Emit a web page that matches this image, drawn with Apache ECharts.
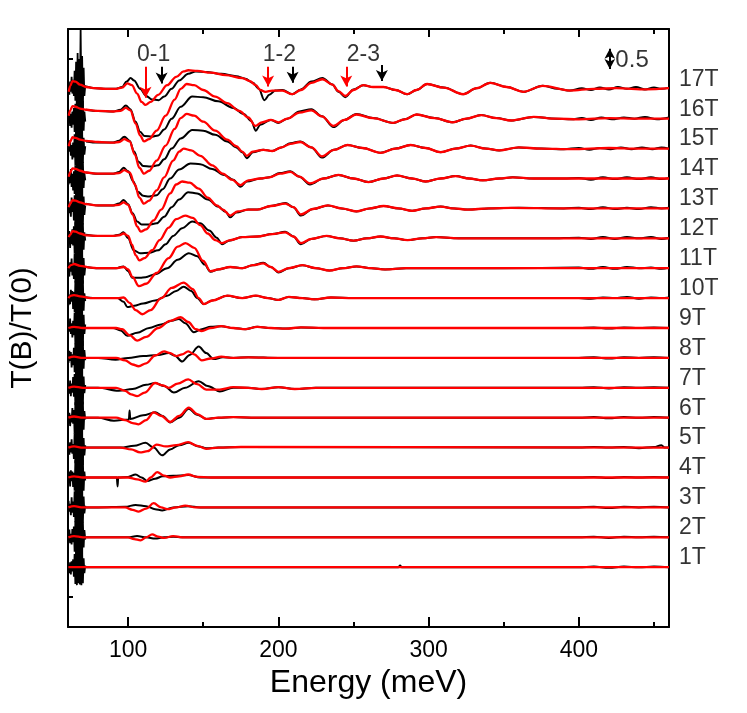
<!DOCTYPE html>
<html>
<head>
<meta charset="utf-8">
<script src="https://cdn.jsdelivr.net/npm/echarts@6.0.0/dist/echarts.min.js"></script>
<style>html,body{margin:0;padding:0;background:#fff;}#c{width:747px;height:713px;}</style>
</head>
<body>
<div id="c"></div>
<script>
// ---------- data ----------
const fields = ['1T','2T','3T','4T','5T','6T','7T','8T','9T','10T','11T','12T','13T','14T','15T','16T','17T'];
const offsets = [1.0,1.5,2.0,2.5,3.0,3.5,4.0,4.5,5.0,5.5,6.0,6.5,7.0,7.5,8.0,8.5,9.0];
const xMajorTicks = [100,200,300,400];
const xMinorTicks = [150,250,350,450];

// noisy low-energy part of the measured (black) traces: energies + deviations from each trace's offset
const noiseE = [60.4,60.9,61.4,61.9,62.4,62.9,63.4,63.9,64.4,64.9,65.4,65.9,66.4,66.9,67.4,67.9,68.4,68.9,69.4,69.9,70.4,70.9,71.5];
const n1  = [0.04,-0.1,0.08,-0.12,0.1,-0.07,0.13,-0.16,0.22,-0.28,0.27,-0.3,0.25,-0.27,0.3,-0.29,0.26,-0.3,0.28,-0.27,0.15,-0.1,0.03];
const n2  = [-0.07,0.13,-0.1,0.06,-0.12,0.14,-0.08,0.18,-0.24,0.27,-0.31,0.29,-0.3,0.31,-0.26,0.3,-0.31,0.28,-0.29,0.26,-0.17,0.12,-0.04];
const n3  = [0.11,-0.07,0.06,-0.13,0.17,-0.09,0.1,-0.16,0.27,-0.25,0.3,-0.32,0.26,-0.29,0.32,-0.3,0.28,-0.33,0.3,-0.25,0.18,-0.1,0.03];
const n4  = [-0.05,0.1,-0.15,0.12,-0.06,0.1,-0.16,0.08,-0.22,0.29,-0.27,0.3,-0.33,0.29,-0.28,0.32,-0.29,0.26,-0.31,0.3,-0.22,0.1,-0.05];
const n5  = [0.07,-0.12,0.09,-0.08,0.14,-0.1,0.06,-0.19,0.24,-0.26,0.32,-0.28,0.29,-0.31,0.3,-0.26,0.31,-0.3,0.26,-0.29,0.16,-0.13,0.04];
const n6  = [-0.1,0.08,-0.14,0.05,-0.08,0.16,-0.1,0.13,-0.27,0.26,-0.29,0.33,-0.3,0.26,-0.32,0.29,-0.27,0.31,-0.3,0.27,-0.2,0.11,-0.03];
const n7  = [0.05,-0.1,0.12,-0.14,0.07,-0.08,0.18,-0.15,0.23,-0.29,0.29,-0.3,0.33,-0.28,0.27,-0.31,0.3,-0.26,0.32,-0.28,0.19,-0.09,0.05];
const n8  = [-0.08,0.12,-0.05,0.1,-0.16,0.06,-0.12,0.17,-0.24,0.24,-0.31,0.28,-0.29,0.32,-0.3,0.26,-0.32,0.3,-0.27,0.29,-0.18,0.13,-0.04];
const n9  = [0.1,-0.06,0.16,-0.1,0.08,-0.16,0.12,-0.12,0.26,-0.27,0.3,-0.33,0.28,-0.3,0.31,-0.27,0.33,-0.29,0.27,-0.3,0.22,-0.1,0.06];
const n10 = [-0.12,0.06,-0.1,0.14,-0.06,0.12,-0.18,0.1,-0.23,0.28,-0.28,0.31,-0.32,0.27,-0.29,0.33,-0.3,0.27,-0.28,0.3,-0.21,0.08,-0.05];
const n11 = [0.06,-0.14,0.1,-0.06,0.16,-0.12,0.08,-0.18,0.25,-0.24,0.31,-0.29,0.3,-0.27,0.33,-0.3,0.26,-0.31,0.29,-0.26,0.17,-0.12,0.03];
const n12 = [-0.04,0.12,-0.16,0.07,-0.1,0.15,-0.12,0.2,-0.25,0.27,-0.3,0.3,-0.26,0.32,-0.31,0.28,-0.29,0.33,-0.27,0.25,-0.19,0.1,-0.04];
const n13 = [0.12,-0.08,0.05,-0.14,0.18,-0.06,0.12,-0.2,0.22,-0.3,0.28,-0.27,0.32,-0.3,0.26,-0.33,0.29,-0.28,0.31,-0.27,0.2,-0.11,0.05];
const n14 = [-0.1,0.05,-0.08,0.16,-0.14,0.08,-0.2,0.12,-0.26,0.22,-0.32,0.29,-0.3,0.33,-0.27,0.31,-0.3,0.26,-0.31,0.28,-0.16,0.09,-0.03];
const n15 = [0.08,-0.05,0.14,-0.12,0.06,-0.18,0.1,-0.15,0.24,-0.28,0.3,-0.31,0.27,-0.3,0.33,-0.26,0.3,-0.32,0.28,-0.24,0.18,-0.1,0.04];
const n16 = [-0.06,0.1,-0.12,0.08,-0.15,0.12,-0.1,0.18,-0.22,0.25,-0.3,0.32,-0.28,0.3,-0.33,0.27,-0.3,0.31,-0.26,0.3,-0.2,0.12,-0.05];
const n17 = [0.02,-0.1,0.12,-0.05,0.2,-0.08,0.15,-0.12,0.3,-0.2,0.45,-0.3,0.6,-0.28,0.5,-0.3,1.0,-0.25,0.55,-0.3,0.35,-0.12,0.06];

// measured traces (black): [energy meV, deviation from offset]
const black1  = [[72,0.0],[150,0.0],[280,0.0],[281,0.03],[282,0.0],[400,0.0],[410,0.01],[420,-0.01],[430,0.01],[440,0.0],[450,0.01],[460,0.0]];
const black2  = [[72,0.0],[80,0.0],[100,0.0],[106,0.02],[112,0.0],[118,-0.02],[124,0.0],[130,0.01],[136,0.0],[400,0.0],[410,0.01],[420,-0.01],[430,0.01],[440,0.0],[450,0.01],[460,0.0]];
const black3  = [[72,0.0],[80,0.0],[98,0.01],[105,0.04],[112,0.02],[118,-0.03],[122.7,-0.05],[130,0.0],[140,0.02],[148,0.0],[400,0.0],[410,0.01],[420,-0.01],[430,0.01],[440,0.0],[450,0.01],[460,0.0]];
const black4  = [[72,0.0],[80,0.0],[92.5,0.0],[93,-0.15],[93.4,0.0],[100,0.01],[105,0.05],[109,0.0],[112.8,-0.06],[118,-0.02],[123,0.02],[130,0.03],[140,0.04],[148,0.0],[160,0.0],[400,0.0],[410,0.01],[420,-0.01],[430,0.01],[440,0.0],[450,0.01],[460,0.0]];
const black5  = [[72,0.0],[80,0.0],[95,0.0],[104,0.03],[111.6,0.08],[117,0.0],[122.7,-0.13],[128,-0.03],[134,0.04],[140.4,0.08],[147,0.02],[152,-0.01],[160,0.0],[175,0.01],[400,0.0],[410,0.01],[420,0.0],[430,0.01],[440,-0.01],[450,0.01],[455,0.04],[457,0.0],[460,0.0]];
const black6  = [[72,0.0],[80,0.0],[90.6,-0.05],[100.5,-0.03],[101,0.12],[101.4,-0.02],[110,0.04],[118,0.09],[123,0.03],[128,-0.08],[134,0.0],[140.4,0.15],[146,0.05],[152,-0.02],[160,0.0],[170,0.01],[185,0.0],[400,0.0],[410,0.01],[420,-0.01],[430,0.01],[440,0.0],[450,0.01],[460,0.0]];
const black7  = [[72,0.0],[80,0.0],[93.7,-0.05],[103,-0.02],[112,0.05],[118,0.08],[124,0.03],[130.5,-0.08],[138,0.0],[147,0.11],[153,0.03],[161,-0.06],[170,0.0],[180,0.0],[189,-0.02],[200,0.01],[211,-0.02],[225,0.0],[400,0.0],[410,0.01],[420,-0.01],[430,0.01],[440,0.0],[450,0.01],[460,0.0]];
const black8  = [[72,0.0],[80,0.0],[91.7,-0.03],[100,0.0],[110,0.03],[120,0.05],[127,0.08],[131,0.04],[136,-0.06],[141,0.05],[147,0.19],[152,0.08],[157,-0.02],[163,0.01],[170,0.0],[180,0.01],[200,0.0],[400,0.0],[410,0.01],[420,-0.01],[430,0.01],[440,0.0],[450,0.01],[460,0.0]];
const black9  = [[72,0.0],[80,0.0],[90,0.0],[95,-0.04],[99.5,-0.13],[106,-0.08],[114,0.0],[122,0.06],[129,0.12],[133.8,0.15],[138,0.08],[143.8,-0.07],[149,-0.02],[155,0.02],[162,0.03],[170,0.0],[178,-0.02],[186,0.02],[195,0.0],[205,-0.01],[215,0.01],[230,0.0],[400,0.0],[410,0.01],[420,-0.01],[430,0.01],[440,0.0],[450,0.01],[460,0.0]];
const black10 = [[72,0.01],[80,0.0],[93,0.0],[97,-0.06],[99.5,-0.15],[104,-0.13],[110,-0.09],[118,-0.04],[126,0.04],[132,0.12],[137,0.19],[142,0.12],[146,0.0],[150.4,-0.1],[156,-0.04],[166,0.04],[176,0.0],[185,0.04],[193,0.0],[200,-0.03],[207,0.02],[216,0.0],[224,-0.02],[235,0.01],[250,0.0],[300,0.0],[400,0.0],[408,-0.01],[416,0.01],[424,0.0],[432,0.02],[440,-0.01],[448,0.01],[455,0.0],[460,0.01]];
const black11 = [[72,0.02],[80,0.0],[92,0.0],[97,0.03],[100,-0.05],[102.8,-0.16],[108,-0.16],[111.6,-0.15],[118,-0.1],[126,0.0],[133,0.14],[140.4,0.25],[146,0.2],[151,0.06],[154.8,-0.06],[160,-0.02],[168,0.02],[176,0.0],[183,0.05],[190,0.09],[195,0.02],[200,-0.07],[207,0.0],[216,0.05],[225,0.0],[234,-0.04],[243,0.0],[252,0.03],[262,0.0],[271,-0.02],[285,0.0],[300,0.0],[350,0.0],[400,0.01],[408,-0.01],[416,0.02],[424,-0.01],[432,0.02],[440,0.0],[448,0.01],[455,-0.01],[460,0.01]];
const black12 = [[72,0.06],[80,0.04],[90,0.04],[94,0.06],[97,0.1],[100,0.0],[103.7,-0.2],[108,-0.25],[114,-0.24],[120,-0.2],[125,-0.1],[130,0.04],[136,0.17],[142.7,0.28],[148,0.25],[154,0.13],[159,0.01],[162.6,-0.1],[167,-0.04],[176,0.02],[186,0.03],[196,0.07],[204.6,0.11],[210,0.03],[215,-0.1],[222,-0.01],[232,0.04],[241,0.0],[250,-0.04],[259,0.0],[268,0.03],[277,0.0],[286,-0.03],[296,0.0],[305,0.02],[320,0.0],[340,0.0],[380,0.0],[400,0.01],[408,-0.01],[416,0.02],[424,-0.01],[432,0.02],[440,0.0],[448,0.02],[455,-0.01],[460,0.01]];
const black13 = [[72,0.08],[80,0.05],[90,0.05],[94,0.08],[97,0.14],[100,0.07],[103,-0.08],[106,-0.22],[109,-0.27],[114,-0.27],[119,-0.25],[124,-0.14],[129,0.02],[134,0.15],[140,0.27],[146,0.25],[153,0.15],[160,0.03],[165,-0.06],[168,-0.15],[172,-0.07],[180,-0.02],[186,-0.02],[195,0.04],[204.7,0.09],[210,0.02],[215,-0.12],[223,-0.01],[233,0.05],[242,0.0],[252,-0.05],[261,0.0],[270,0.04],[280,0.0],[289,-0.04],[298,0.0],[308,0.03],[317,0.0],[326,-0.02],[340,0.0],[360,0.01],[390,0.0],[400,0.01],[408,-0.01],[416,0.02],[424,-0.01],[432,0.01],[440,-0.01],[448,0.02],[455,0.0],[460,0.01]];
const black14 = [[72,0.1],[80,0.08],[90,0.08],[94,0.11],[97,0.18],[100,0.12],[103.5,-0.05],[106.5,-0.22],[110,-0.29],[114,-0.3],[119,-0.28],[123,-0.18],[128,0.0],[134,0.15],[141.5,0.25],[148,0.24],[156,0.16],[164,0.06],[170,-0.02],[174.8,-0.14],[179,-0.05],[188,0.0],[194,0.02],[201,0.09],[208,0.12],[214,0.03],[221,-0.1],[230,0.0],[240,0.06],[250,0.0],[260,-0.06],[270,0.0],[279,0.05],[289,0.0],[298,-0.05],[308,0.0],[318,0.04],[327,0.0],[336,-0.03],[347,0.0],[356,0.02],[370,0.0],[390,0.0],[400,0.01],[408,-0.02],[416,0.02],[424,-0.01],[432,0.02],[440,-0.01],[448,0.02],[455,-0.01],[460,0.01]];
const black15 = [[72,0.12],[80,0.1],[90,0.1],[94,0.13],[97.5,0.2],[101,0.13],[104,-0.05],[107,-0.22],[110,-0.29],[115,-0.3],[120,-0.28],[124,-0.18],[129,0.0],[135,0.17],[142.7,0.31],[150,0.3],[158,0.23],[166,0.12],[172,0.02],[176,-0.06],[179,-0.16],[183,-0.06],[190,-0.02],[196,-0.04],[202,0.02],[208,0.09],[214.6,0.12],[222,0.02],[229,-0.15],[237,-0.02],[246,0.06],[256,0.01],[268,-0.07],[278,0.0],[288,0.06],[298,0.01],[308,-0.06],[318,0.0],[328,0.05],[338,0.0],[347,-0.03],[360,0.02],[375,0.0],[390,-0.01],[400,0.01],[407,-0.02],[414,0.01],[421,-0.01],[428,0.02],[435,-0.01],[442,0.02],[449,-0.01],[455,0.02],[460,0.0]];
const black16 = [[72,0.15],[80,0.13],[90,0.12],[95,0.15],[98.5,0.22],[101.5,0.16],[105,-0.05],[108,-0.22],[111,-0.29],[116,-0.3],[120,-0.28],[124,-0.18],[129,0.0],[135,0.2],[142.7,0.37],[150,0.36],[160,0.29],[170,0.18],[177,0.08],[182,-0.04],[185,-0.2],[188,-0.1],[195,-0.02],[200,-0.07],[206,0.0],[214,0.12],[222,0.16],[229,0.04],[236.7,-0.14],[244,-0.02],[252,0.08],[263,0.01],[276.5,-0.07],[284,-0.01],[292,0.07],[304,0.01],[316,-0.06],[325,0.0],[335,0.06],[345,0.01],[355,-0.03],[370,0.03],[385,0.0],[395,-0.01],[402,0.01],[408,-0.02],[415,0.02],[422,-0.01],[430,0.02],[437,0.0],[444,0.03],[452,-0.01],[460,0.02]];
const black17 = [[72,0.04],[78,0.01],[85,0.0],[92,0.0],[96,0.03],[99,0.12],[101.7,0.18],[104,0.14],[108,0.0],[112,-0.12],[116,-0.18],[120.3,-0.19],[124,-0.13],[129,0.0],[134,0.14],[140,0.25],[145,0.29],[152,0.28],[162,0.25],[172,0.21],[178,0.17],[183,0.1],[187,0.0],[190.7,-0.19],[194,-0.1],[198,-0.03],[202.7,-0.02],[209.3,-0.09],[215,-0.01],[222,0.12],[229.3,0.18],[236,0.07],[240,-0.05],[244.5,-0.14],[250,-0.01],[256.5,0.06],[263,0.03],[270,0.03],[278,-0.02],[285.7,-0.09],[292,-0.02],[299,0.08],[310,0.02],[323,-0.09],[332,0.01],[341,0.1],[352,0.03],[363,-0.05],[376,0.05],[386,0.0],[394,-0.03],[402,0.01],[408,-0.02],[414,0.02],[420,-0.01],[426,0.03],[432,0.0],[438,0.03],[444,-0.01],[450,0.02],[455,0.0],[460,0.02]];

// fits (red): [energy meV, deviation from offset]
const red1  = [[60.3,0.0],[200,0.0],[460,0.0]];
const red2  = [[60.3,0.0],[64,0.02],[70,0.0],[80,0.0],[100,0.0],[104,-0.03],[108.3,-0.05],[112,0.0],[116,0.05],[120,0.01],[124,-0.01],[130,0.02],[136,0.0],[460,0.0]];
const red3  = [[60.3,0.0],[64,0.02],[70,0.0],[80,0.0],[98,0.0],[103,-0.04],[107,-0.07],[112,-0.02],[117,0.07],[122,0.0],[126,-0.03],[132,0.0],[138,0.03],[145,0.0],[460,0.0]];
const red4  = [[60.3,0.0],[64,0.02],[70,0.0],[80,0.0],[100,0.0],[106,-0.03],[111.6,-0.07],[115,0.0],[119.4,0.09],[124,0.03],[128,0.0],[134,0.02],[140,0.05],[146,0.01],[155,0.0],[460,0.0]];
const red5  = [[60.3,0.0],[64,0.02],[70,0.0],[80,0.0],[95,0.0],[102,-0.03],[108,-0.08],[113,-0.06],[119,0.05],[125,0.02],[132,0.04],[140,0.09],[146,0.03],[152,-0.02],[160,0.0],[175,0.01],[460,0.0]];
const red6  = [[60.3,0.0],[64,0.02],[70,0.0],[80,0.0],[92,0.0],[98,-0.04],[103,-0.09],[107,-0.11],[112,-0.04],[117,0.09],[122,0.03],[128,-0.07],[134,0.03],[140.4,0.17],[146,0.06],[152,-0.02],[160,0.0],[170,0.01],[185,0.0],[460,0.0]];
const red7  = [[60.3,0.0],[64,0.02],[70,0.0],[80,0.0],[92,0.0],[98,-0.05],[102,-0.11],[106,-0.14],[111,-0.08],[118,0.08],[123,0.04],[127,0.0],[133,0.07],[140,0.14],[146,0.06],[152,-0.03],[161,-0.03],[170,0.01],[180,0.0],[189,-0.02],[200,0.01],[211,-0.02],[225,0.0],[460,0.0]];
const red8  = [[60.3,0.0],[64,0.02],[70,0.0],[80,0.0],[92,0.0],[98,-0.04],[103,-0.11],[107,-0.14],[112,-0.09],[118,0.04],[124,0.11],[128,0.08],[132,0.03],[136,0.06],[140,0.11],[144,0.06],[149,-0.04],[155,-0.01],[162,0.02],[170,0.0],[180,0.01],[200,0.0],[460,0.0]];
const red9  = [[60.3,0.0],[64,0.02],[70,0.0],[80,0.0],[92,0.0],[96,-0.02],[101,-0.12],[106,-0.21],[112,-0.15],[120,0.0],[128,0.12],[135,0.18],[140,0.1],[145,-0.02],[149,-0.05],[155,0.0],[162,0.03],[170,0.0],[178,-0.02],[186,0.02],[195,0.0],[205,-0.01],[215,0.01],[230,0.0],[460,0.0]];
const red10 = [[60.3,0.0],[62,0.04],[64,0.05],[68,0.03],[75,0.0],[93,0.0],[97,0.01],[101,-0.08],[105,-0.2],[109.4,-0.27],[115,-0.2],[122,0.0],[129,0.17],[137,0.26],[143,0.15],[147,0.0],[150.4,-0.1],[156,-0.04],[166,0.04],[176,0.0],[185,0.04],[193,0.0],[200,-0.03],[207,0.02],[216,0.0],[224,-0.02],[235,0.01],[250,0.0],[460,0.0]];
const red11 = [[60.3,0.0],[62,0.05],[64,0.07],[68,0.04],[75,0.01],[80,0.0],[92,0.0],[97,0.02],[100,-0.02],[103,-0.15],[107.2,-0.3],[112,-0.26],[119,-0.08],[127,0.17],[133,0.36],[138.2,0.42],[144,0.34],[150,0.12],[154.8,-0.05],[160,-0.02],[168,0.02],[176,0.0],[183,0.05],[190,0.08],[195,0.02],[200,-0.06],[207,0.0],[216,0.05],[225,0.0],[234,-0.04],[243,0.0],[252,0.03],[262,0.0],[271,-0.02],[285,0.0],[300,0.0],[460,0.0]];
const red12 = [[60.5,0.02],[61.5,0.06],[63,0.12],[65,0.11],[68,0.08],[72,0.05],[80,0.04],[90,0.04],[94,0.05],[97,0.08],[100,0.04],[102.5,-0.1],[105,-0.28],[107.5,-0.37],[111,-0.33],[116,-0.2],[121,-0.03],[127,0.18],[132,0.32],[138,0.38],[143,0.34],[148,0.22],[153,0.08],[158,-0.03],[162.6,-0.08],[168,-0.03],[176,0.02],[186,0.03],[196,0.07],[204.6,0.1],[210,0.03],[215,-0.08],[222,-0.01],[232,0.04],[241,0.0],[250,-0.04],[259,0.0],[268,0.03],[277,0.0],[286,-0.03],[296,0.0],[305,0.02],[320,0.0],[340,0.0],[460,0.0]];
const red13 = [[60.5,0.02],[61.5,0.08],[63,0.14],[65,0.13],[68,0.1],[72,0.07],[80,0.05],[90,0.05],[94,0.06],[97,0.1],[100,0.06],[103,-0.1],[106,-0.3],[108.4,-0.39],[112,-0.35],[117,-0.2],[122,-0.02],[128,0.25],[132,0.4],[136,0.45],[141,0.43],[147,0.33],[153,0.18],[159,0.05],[163,-0.02],[168,-0.12],[173,-0.05],[180,-0.02],[186,-0.02],[195,0.04],[204.7,0.08],[210,0.02],[215,-0.1],[223,-0.01],[233,0.05],[242,0.0],[252,-0.05],[261,0.0],[270,0.04],[280,0.0],[289,-0.04],[298,0.0],[308,0.03],[317,0.0],[326,-0.02],[340,0.0],[355,0.01],[390,0.0],[460,0.0]];
const red14 = [[60.5,0.03],[61.5,0.1],[63,0.17],[65,0.16],[68,0.13],[72,0.1],[80,0.08],[90,0.08],[94,0.09],[97.5,0.14],[101,0.1],[104.5,-0.1],[107.5,-0.32],[110.5,-0.42],[114,-0.37],[119,-0.2],[124,0.02],[130,0.3],[134,0.45],[137,0.5],[142,0.47],[148,0.38],[156,0.22],[163,0.08],[169,-0.02],[174.8,-0.11],[180,-0.03],[188,0.0],[194,0.02],[201,0.08],[208,0.11],[214,0.03],[221,-0.08],[230,0.0],[240,0.06],[250,0.0],[260,-0.06],[270,0.0],[279,0.05],[289,0.0],[298,-0.05],[308,0.0],[318,0.04],[327,0.0],[336,-0.03],[347,0.0],[356,0.02],[370,0.0],[390,0.0],[420,0.0],[460,0.0]];
const red15 = [[60.5,0.04],[61.5,0.12],[63,0.19],[65,0.18],[68,0.15],[72,0.13],[80,0.11],[90,0.1],[94,0.11],[97.5,0.16],[101,0.12],[104.5,-0.1],[107.5,-0.32],[110.6,-0.42],[114,-0.37],[119,-0.2],[125,0.05],[131,0.33],[135,0.51],[139,0.58],[144,0.55],[150,0.45],[158,0.3],[166,0.15],[172,0.04],[176,-0.05],[179,-0.12],[183,-0.05],[190,-0.02],[196,-0.04],[202,0.02],[208,0.08],[214.6,0.11],[222,0.02],[229,-0.13],[237,-0.02],[246,0.06],[256,0.01],[268,-0.07],[278,0.0],[288,0.06],[298,0.01],[308,-0.06],[318,0.0],[328,0.05],[338,0.0],[347,-0.03],[360,0.02],[375,0.0],[395,-0.01],[420,0.01],[440,0.0],[460,0.0]];
const red16 = [[60.5,0.05],[61.5,0.14],[63,0.21],[65,0.2],[68,0.17],[72,0.15],[80,0.13],[90,0.12],[95,0.13],[98.5,0.18],[101.5,0.14],[105,-0.08],[108,-0.28],[110.6,-0.38],[114,-0.34],[119,-0.2],[125,0.05],[131,0.32],[135,0.5],[139,0.58],[144,0.56],[150,0.48],[158,0.37],[166,0.26],[174,0.13],[180,0.02],[184.7,-0.12],[189,-0.06],[195,-0.02],[200,-0.06],[206,0.0],[214,0.1],[222,0.14],[229,0.04],[236.7,-0.12],[244,-0.02],[252,0.07],[263,0.01],[276.5,-0.07],[284,-0.01],[292,0.07],[304,0.01],[316,-0.06],[325,0.0],[335,0.06],[345,0.01],[355,-0.03],[370,0.03],[385,0.0],[400,-0.01],[420,0.01],[440,0.0],[460,0.0]];
const red17 = [[60.5,-0.05],[61.5,0.05],[63,0.13],[65,0.12],[68,0.07],[72,0.03],[78,0.01],[85,0.0],[92,0.0],[96,0.02],[99.5,0.09],[102.5,0.06],[106,-0.08],[109,-0.22],[111.6,-0.27],[115,-0.22],[120,-0.1],[126,0.06],[132,0.2],[137,0.29],[140,0.31],[146,0.3],[155,0.27],[165,0.23],[176,0.18],[181,0.13],[185,0.06],[188,-0.02],[191.4,-0.05],[196,-0.03],[202.7,-0.03],[209.3,-0.09],[215,-0.02],[222,0.1],[229.3,0.16],[236,0.07],[240,-0.04],[244.5,-0.12],[250,-0.02],[256.5,0.06],[263,0.03],[270,0.03],[278,-0.02],[285.7,-0.09],[292,-0.02],[299,0.08],[310,0.02],[323,-0.09],[332,0.01],[341,0.1],[352,0.03],[363,-0.05],[376,0.05],[394,-0.03],[410,0.0],[425,0.01],[445,-0.01],[460,0.01]];

// annotations
const transLabels = ['0-1','1-2','2-3'];
const transLabelE = [117, 200.7, 256.6];
const transLabelV = [9.57, 9.57, 9.57];
const redArrowE = [111.6, 193.2, 245.2];
const redArrowTop = [9.37, 9.37, 9.37];
const redArrowEnd = [8.85, 9.04, 9.04];
const blackArrowE = [122.3, 209.5, 268.9];
const blackArrowTop = [9.37, 9.37, 9.40];
const blackArrowEnd = [9.09, 9.10, 9.13];
const scaleBarE = 420.6;
const scaleBarFrom = 9.33;
const scaleBarTo = 9.67;
const scaleLabel = '0.5';
const scaleLabelPos = [424.3, 9.48];

// ---------- chart ----------
const FONT = '"Liberation Sans", Arial, Helvetica, sans-serif';
const noises = [n1,n2,n3,n4,n5,n6,n7,n8,n9,n10,n11,n12,n13,n14,n15,n16,n17];
const blacks = [black1,black2,black3,black4,black5,black6,black7,black8,black9,black10,black11,black12,black13,black14,black15,black16,black17];
const reds = [red1,red2,red3,red4,red5,red6,red7,red8,red9,red10,red11,red12,red13,red14,red15,red16,red17];

const series = [];
fields.forEach((f, i) => {
  series.push({
    type: 'line', name: f + ' data noise', silent: true, symbol: 'none',
    data: noiseE.map((e, k) => [e, offsets[i] + noises[i][k]]),
    lineStyle: { color: '#000', width: 1.8 }, z: 2
  });
  series.push({
    type: 'line', name: f + ' data', silent: true, symbol: 'none',
    smooth: 0.35, smoothMonotone: 'x',
    data: blacks[i].map(p => [p[0], offsets[i] + p[1]]),
    lineStyle: { color: '#000', width: 2 }, z: 2
  });
});
fields.forEach((f, i) => {
  series.push({
    type: 'line', name: f + ' fit', silent: true, symbol: 'none',
    smooth: 0.35, smoothMonotone: 'x',
    data: reds[i].map(p => [p[0], offsets[i] + p[1]]),
    lineStyle: { color: '#ff0000', width: 2.3 }, z: 3
  });
});

// field labels at right
series.push({
  type: 'scatter', silent: true, symbolSize: 0, clip: false, z: 5,
  data: fields.map((f, i) => [460, offsets[i], f]),
  label: { show: true, position: 'right', distance: 10, offset: [0, -9.5],
    formatter: p => p.value[2], color: '#000', fontSize: 23, fontFamily: FONT }
});

// transition labels + arrows
const arrowLines = [];
transLabels.forEach((t, i) => {
  arrowLines.push([
    { coord: [redArrowE[i], redArrowTop[i]], symbol: 'none', lineStyle: { color: '#ff0000', width: 2, type: 'solid' } },
    { coord: [redArrowE[i], redArrowEnd[i]], symbol: 'arrow', symbolSize: [9, 11] }
  ]);
  arrowLines.push([
    { coord: [blackArrowE[i], blackArrowTop[i]], symbol: 'none', lineStyle: { color: '#000', width: 2, type: 'solid' } },
    { coord: [blackArrowE[i], blackArrowEnd[i]], symbol: 'arrow', symbolSize: [9, 11] }
  ]);
});
arrowLines.push([
  { coord: [scaleBarE, scaleBarFrom], symbol: 'arrow', symbolSize: [8, 10], lineStyle: { color: '#000', width: 2, type: 'solid' } },
  { coord: [scaleBarE, scaleBarTo], symbol: 'arrow', symbolSize: [8, 10] }
]);

series.push({
  type: 'scatter', silent: true, symbolSize: 0, clip: false, z: 5,
  data: transLabels.map((t, i) => [transLabelE[i], transLabelV[i], t]),
  label: { show: true, position: 'inside', formatter: p => p.value[2],
    color: '#000', fontSize: 23, fontFamily: FONT },
  markLine: {
    silent: true, animation: false, precision: 4,
    label: { show: false },
    lineStyle: { type: 'solid', width: 2 },
    emphasis: { disabled: true },
    data: arrowLines
  }
});
series.push({
  type: 'scatter', silent: true, symbolSize: 0, clip: false, z: 5,
  data: [[scaleLabelPos[0], scaleLabelPos[1], scaleLabel]],
  label: { show: true, position: 'right', distance: 0, formatter: p => p.value[2],
    color: '#000', fontSize: 24, fontFamily: FONT }
});

const axisLineStyle = { lineStyle: { color: '#000', width: 2 } };
const option = {
  animation: false,
  backgroundColor: '#fff',
  grid: { left: 67, right: 78, top: 29, bottom: 86, containLabel: false },
  xAxis: [
    { type: 'value', position: 'bottom', min: 60, max: 460,
      name: 'Energy (meV)', nameLocation: 'middle', nameGap: 36,
      nameTextStyle: { fontSize: 32, fontFamily: FONT, color: '#000' },
      axisLine: { show: true, onZero: false, ...axisLineStyle },
      axisTick: { show: true, inside: true, length: 10, customValues: xMajorTicks, lineStyle: { color: '#000', width: 2 } },
      axisLabel: { show: true, customValues: xMajorTicks, margin: 12, fontSize: 23, fontFamily: FONT, color: '#000' },
      splitLine: { show: false } },
    { type: 'value', position: 'bottom', min: 60, max: 460,
      axisLine: { show: false, onZero: false },
      axisTick: { show: true, inside: true, length: 5, customValues: xMinorTicks, lineStyle: { color: '#000', width: 2 } },
      axisLabel: { show: false }, splitLine: { show: false } },
    { type: 'value', position: 'top', min: 60, max: 460,
      axisLine: { show: true, onZero: false, ...axisLineStyle },
      axisTick: { show: true, inside: true, length: 8, customValues: xMajorTicks, lineStyle: { color: '#000', width: 2 } },
      axisLabel: { show: false }, splitLine: { show: false } },
    { type: 'value', position: 'top', min: 60, max: 460,
      axisLine: { show: false, onZero: false },
      axisTick: { show: true, inside: true, length: 5, customValues: xMinorTicks, lineStyle: { color: '#000', width: 2 } },
      axisLabel: { show: false }, splitLine: { show: false } }
  ],
  yAxis: [
    { type: 'value', position: 'left', min: 0, max: 10, interval: 0.5,
      name: 'T(B)/T(0)', nameLocation: 'middle', nameGap: 30,
      nameTextStyle: { fontSize: 30, fontFamily: FONT, color: '#000' },
      axisLine: { show: true, onZero: false, ...axisLineStyle },
      axisTick: { show: true, inside: true, length: 5, lineStyle: { color: '#000', width: 2 } },
      axisLabel: { show: false }, splitLine: { show: false } },
    { type: 'value', position: 'right', min: 0, max: 10,
      axisLine: { show: true, onZero: false, ...axisLineStyle },
      axisTick: { show: false }, axisLabel: { show: false }, splitLine: { show: false } }
  ],
  series: series
};
const chart = echarts.init(document.getElementById('c'), null, { renderer: 'canvas' });
chart.setOption(option);
</script>
</body>
</html>
